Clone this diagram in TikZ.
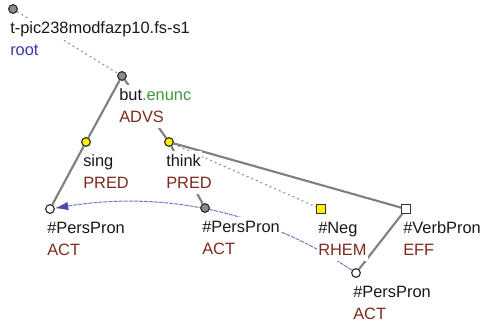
\documentclass[tikz,border=0pt]{standalone}
\usepackage{fontspec}
\setmainfont{Liberation Sans}
\usepackage{tikz}
\usetikzlibrary{positioning, arrows.meta, backgrounds}
\usepackage{xcolor}

\definecolor{edgegray}{HTML}{808080}
\definecolor{dotgray}{HTML}{9A9A9A}
\definecolor{nodegray}{HTML}{8C8C8C}
\definecolor{functor}{HTML}{7F2A1E}
\definecolor{rootblue}{HTML}{3A3AA8}
\definecolor{enunc}{HTML}{3C9A3C}
\definecolor{corefblue}{HTML}{7376C4}
\definecolor{corefdark}{HTML}{4A4DA8}

\tikzset{
    tnode/.style={draw=black!80, line width=0.9pt, inner sep=0pt, minimum size=6.5pt},
    gray node/.style={tnode, circle, fill=nodegray},
    yellow node/.style={tnode, circle, fill=yellow},
    white node/.style={tnode, circle, fill=white},
    yellow box/.style={tnode, rectangle, fill=yellow},
    white box/.style={tnode, rectangle, fill=white},
    lbl/.style={anchor=north west, fill=white, inner sep=0.75pt,
        text height=10.5pt, text depth=4pt,
        font=\fontsize{12.3pt}{16.1pt}\selectfont, text=black!90},
    fun/.style={lbl, below=0pt of #1.south west, anchor=north west, text=functor},
    tree/.style={draw=edgegray, line width=1.6pt},
    dotted edge/.style={draw=dotgray, line width=0.9pt, dash pattern=on 1.5pt off 2.25pt},
    coref/.style={draw=corefblue, line width=0.75pt, dash pattern=on 3pt off 0.8pt,
        -{Latex[length=10pt, width=6.5pt, color=corefdark]}}
}

\begin{document}
\begin{tikzpicture}[x=0.75pt, y=-0.75pt]
    \useasboundingbox (0,0) rectangle (482,323);

    % tree nodes
    \node[gray node] (root) at (13,9) {};
    \node[gray node] (but) at (122,76) {};
    \node[yellow node] (sing) at (86,142) {};
    \node[yellow node] (think) at (169,142) {};
    \node[white node] (pp1) at (50,209) {};
    \node[gray node] (pp2) at (205,208) {};
    \node[yellow box] (neg) at (321,209) {};
    \node[white box] (verb) at (406,209) {};
    \node[white node] (pp3) at (356,273) {};

    % edges
    \begin{scope}[on background layer]
        \draw[dotted edge] (root) -- (but);
        \draw[tree] (but) -- (sing);
        \draw[tree] (sing) -- (pp1);
        \draw[tree] (but) -- (think);
        \draw[tree] (think) -- (pp2);
        \draw[dotted edge] (think) -- (neg);
        \draw[tree] (think) -- (verb);
        \draw[tree] (verb) -- (pp3);
        \draw[coref] (pp3) .. controls (256,206) and (154,192) .. (pp1);
    \end{scope}

    % labels
    \node[lbl] (rootl) at ([shift={(-4,9)}]root.center) {t-pic238modfazp10.fs-s1};
    \node[fun=rootl, text=rootblue] (rootf) {root};
    \node[lbl] (butl) at ([shift={(-4,9)}]but.center) {but\textcolor{enunc}{.enunc}};
    \node[fun=butl] (butf) {ADVS};
    \node[lbl] (singl) at ([shift={(-4,9)}]sing.center) {sing};
    \node[fun=singl] (singf) {PRED};
    \node[lbl] (thinkl) at ([shift={(-4,9)}]think.center) {think};
    \node[fun=thinkl] (thinkf) {PRED};
    \node[lbl] (pp1l) at ([shift={(-4,9)}]pp1.center) {\#PersPron};
    \node[fun=pp1l] (pp1f) {ACT};
    \node[lbl] (pp2l) at ([shift={(-4,9)}]pp2.center) {\#PersPron};
    \node[fun=pp2l] (pp2f) {ACT};
    \node[lbl] (negl) at ([shift={(-4,9)}]neg.center) {\#Neg};
    \node[fun=negl] (negf) {RHEM};
    \node[lbl] (verbl) at ([shift={(-4,9)}]verb.center) {\#VerbPron};
    \node[fun=verbl] (verbf) {EFF};
    \node[lbl] (pp3l) at ([shift={(-4,9)}]pp3.center) {\#PersPron};
    \node[fun=pp3l] (pp3f) {ACT};
\end{tikzpicture}
\end{document}
